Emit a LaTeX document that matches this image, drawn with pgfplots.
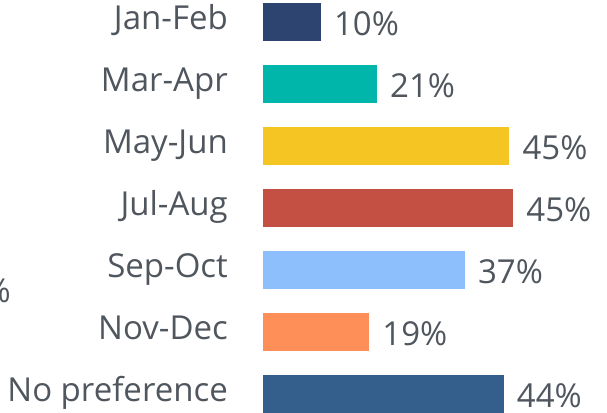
\documentclass[border=0pt]{standalone}
\usepackage{fontspec}
\setmainfont{Open Sans}
\usepackage{pgfplots}
\pgfplotsset{compat=1.18}

\definecolor{txt}{HTML}{50565E}
\definecolor{cjan}{HTML}{2D4471}
\definecolor{cmar}{HTML}{00B5AA}
\definecolor{cmay}{HTML}{F5C523}
\definecolor{cjul}{HTML}{C44F43}
\definecolor{csep}{HTML}{8DBFFC}
\definecolor{cnov}{HTML}{FF8F59}
\definecolor{cnop}{HTML}{345E8B}

\begin{document}
\begin{tikzpicture}
\useasboundingbox (0,0) rectangle (607bp,413bp);
% cut-off label at the left edge
\node[anchor=base east, inner sep=0, font=\fontsize{33bp}{39bp}\selectfont, text=txt] at (11bp,110bp) {\%};
\begin{axis}[
  at={(263bp,422bp)}, anchor=north west,
  scale only axis,
  width=333.6bp, height=434bp,
  xmin=0, xmax=60,
  ymin=-0.5, ymax=6.5,
  y dir=reverse,
  axis line style={draw=none},
  tick style={draw=none},
  xtick=\empty,
  ytick={0,1,2,3,4,5,6},
  yticklabels={Jan-Feb,Mar-Apr,May-Jun,Jul-Aug,Sep-Oct,Nov-Dec,No preference},
  y tick label style={anchor=base east, inner sep=0pt, xshift=-35bp, yshift=-8bp,
    font=\fontsize{33bp}{39bp}\selectfont, text=txt},
  every axis plot/.append style={xbar, bar width=38bp, bar shift=0pt, draw=none},
  every node near coord/.append style={anchor=base west, inner sep=0pt,
    xshift=13bp, yshift=-13.5bp, font=\fontsize{33bp}{39bp}\selectfont, text=txt},
]
\addplot[fill=cjan, nodes near coords={10\%}] coordinates {(10.4,0)};
\addplot[fill=cmar, nodes near coords={21\%}] coordinates {(20.5,1)};
\addplot[fill=cmay, nodes near coords={45\%}] coordinates {(44.3,2)};
\addplot[fill=cjul, nodes near coords={45\%}] coordinates {(45.0,3)};
\addplot[fill=csep, nodes near coords={37\%}] coordinates {(36.3,4)};
\addplot[fill=cnov, nodes near coords={19\%}] coordinates {(19.1,5)};
\addplot[fill=cnop, nodes near coords={44\%}] coordinates {(43.3,6)};
\end{axis}
\end{tikzpicture}
\end{document}
